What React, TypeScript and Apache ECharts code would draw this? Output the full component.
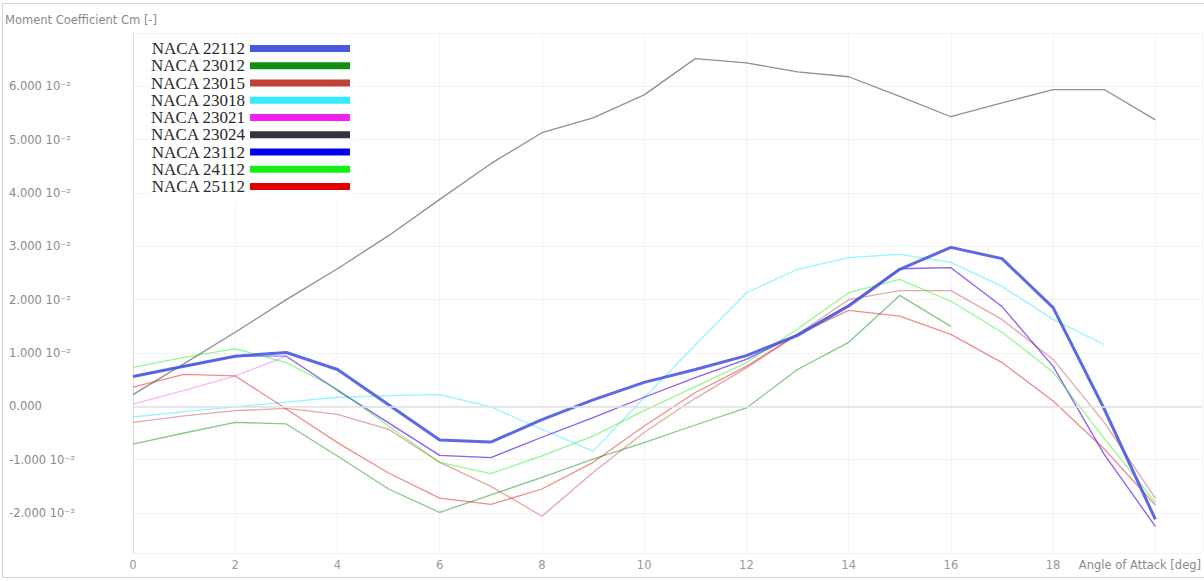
import React, { useEffect, useRef } from "react";
import * as echarts from "echarts";

const ANGLES = [0, 1, 2, 3, 4, 5, 6, 7, 8, 9, 10, 11, 12, 13, 14, 15, 16, 17, 18, 19, 20];

const SERIES_NAMES = [
  "NACA 22112",
  "NACA 23012",
  "NACA 23015",
  "NACA 23018",
  "NACA 23021",
  "NACA 23024",
  "NACA 23112",
  "NACA 24112",
  "NACA 25112",
];

const SERIES_COLORS = [
  "#4a5ae0",
  "#138f13",
  "#c0403a",
  "#33eaff",
  "#f020f0",
  "#333340",
  "#0000ee",
  "#14f014",
  "#e00000",
];

const CM_22112 = [0.0056, 0.0075, 0.0094, 0.0101, 0.0069, 0.0003, -0.0063, -0.0067, -0.0025, 0.0012, 0.0045, 0.0069, 0.0095, 0.0133, 0.0188, 0.0257, 0.0298, 0.0277, 0.0185, -0.0005, -0.0212];
const CM_23012 = [-0.0071, -0.005, -0.003, -0.0033, -0.0093, -0.0155, -0.0199, -0.0166, -0.0133, -0.0099, -0.0068, -0.0035, -0.0003, 0.0069, 0.012, 0.0208, 0.015, null, null, null, null];
const CM_23015 = [-0.003, -0.0018, -0.0008, -0.0004, -0.0015, -0.0043, -0.0105, -0.015, -0.0206, -0.0124, -0.0049, 0.0015, 0.0072, 0.0135, 0.02, 0.0217, 0.0217, 0.0163, 0.0088, -0.003, -0.0172];
const CM_23018 = [-0.002, -0.001, -0.0001, 0.0008, 0.0017, 0.002, 0.0022, -0.0001, -0.0043, -0.0084, 0.0016, 0.0115, 0.0213, 0.0257, 0.0279, 0.0285, 0.027, 0.0225, 0.0163, 0.0116, null];
const CM_23021 = [0.0004, 0.003, 0.0057, 0.0094, 0.003, -0.0031, -0.0092, -0.0096, -0.0058, -0.0021, 0.0017, 0.0054, 0.0088, 0.0135, 0.019, 0.0258, 0.026, 0.0187, 0.0075, -0.009, -0.0225];
const CM_23024 = [0.0022, 0.008, 0.0139, 0.02, 0.0258, 0.032, 0.0388, 0.0455, 0.0513, 0.0541, 0.0584, 0.0652, 0.0644, 0.0627, 0.0618, 0.0581, 0.0543, 0.0569, 0.0594, 0.0594, 0.0537];
const CM_23112 = [0.0056, 0.0075, 0.0094, 0.0094, 0.003, -0.0031, -0.0092, -0.0096, -0.0058, -0.0021, 0.0017, 0.0054, 0.0088, 0.0135, 0.019, 0.0258, 0.026, 0.0187, 0.0075, -0.009, -0.0225];
const CM_24112 = [0.0073, 0.0092, 0.0108, 0.0082, 0.0032, -0.0037, -0.0105, -0.0126, -0.0093, -0.0056, -0.0008, 0.0037, 0.0082, 0.0145, 0.0213, 0.0238, 0.0197, 0.0139, 0.0064, -0.006, -0.018];
const CM_25112 = [0.0036, 0.006, 0.0057, -0.0005, -0.0068, -0.0125, -0.0172, -0.0184, -0.0155, -0.0105, -0.0037, 0.0026, 0.0075, 0.0135, 0.018, 0.0169, 0.0135, 0.0082, 0.001, -0.008, -0.0185];

const SERIES_VALUES = [CM_22112, CM_23012, CM_23015, CM_23018, CM_23021, CM_23024, CM_23112, CM_24112, CM_25112];

const X_TICKS = [0, 2, 4, 6, 8, 10, 12, 14, 16, 18];

const AXIS_FONT = "'DejaVu Sans', Verdana, sans-serif";

function formatCm(v: number): string {
  if (Math.abs(v) < 1e-9) return "0.000";
  return (v * 100).toFixed(3) + " 10\u207B\u00B2";
}

export default function App() {
  const ref = useRef<HTMLDivElement>(null);

  useEffect(() => {
    if (!ref.current) return;
    const chart = echarts.init(ref.current, undefined, { renderer: "svg" });

    const lineOpacity = [0.9, 0.5, 0.45, 0.5, 0.32, 0.55, 0.45, 0.45, 0.45];

    const series = SERIES_NAMES.map((name, si) => {
      const vals = SERIES_VALUES[si];
      const data = ANGLES.map((a, i) => [a, vals[i]]).filter((p) => p[1] !== null);
      const thick = si === 0;
      return {
        name,
        type: "line",
        data,
        showSymbol: false,
        symbol: "none",
        z: thick ? 4 : 2,
        itemStyle: { color: SERIES_COLORS[si] },
        lineStyle: {
          color: SERIES_COLORS[si],
          width: thick ? 3 : 1.3,
          opacity: lineOpacity[si],
        },
        emphasis: { disabled: true },
      };
    });

    chart.setOption({
      animation: false,
      backgroundColor: "#ffffff",
      title: {
        text: "Moment Coefficient Cm [-]",
        left: 5,
        top: 14,
        padding: 0,
        textStyle: {
          fontFamily: AXIS_FONT,
          fontSize: 11.5,
          fontWeight: "normal",
          color: "#8a8a8a",
        },
      },
      legend: {
        orient: "vertical",
        right: 850,
        top: 38,
        padding: [2, 4, 6, 2],
        align: "right",
        icon: "rect",
        itemWidth: 100,
        itemHeight: 7,
        itemGap: 0.25,
        backgroundColor: "#ffffff",
        textStyle: {
          fontFamily: "'Liberation Serif', 'Times New Roman', serif",
          fontSize: 17,
          lineHeight: 17,
          color: "#2a2a2a",
        },
        data: SERIES_NAMES,
      },
      grid: {
        left: 133,
        right: 0,
        top: 33,
        bottom: 28,
        containLabel: false,
      },
      xAxis: {
        type: "value",
        min: 0,
        max: 20.91,
        interval: 2,
        name: "Angle of Attack [deg]",
        nameLocation: "end",
        nameGap: -123,
        nameTextStyle: {
          fontFamily: AXIS_FONT,
          fontSize: 11.5,
          color: "#8a8a8a",
          verticalAlign: "top",
          padding: [6, 0, 0, 0],
        },
        axisLine: { show: false, onZero: false },
        axisTick: { show: false },
        axisLabel: {
          margin: 6,
          fontFamily: AXIS_FONT,
          fontSize: 11.5,
          color: "#9a9a9a",
          showMaxLabel: false,
          formatter: (v: number) => (X_TICKS.indexOf(v) >= 0 ? String(v) : ""),
        },
        splitLine: { show: true, lineStyle: { color: "#f3f3f3", width: 1 } },
      },
      yAxis: {
        type: "value",
        min: -0.0275,
        max: 0.07,
        splitNumber: 10,
        axisLine: { show: true, lineStyle: { color: "#dddddd", width: 1 } },
        axisTick: { show: false },
        axisLabel: {
          showMinLabel: false,
          showMaxLabel: false,
          align: "left",
          margin: 124,
          fontFamily: AXIS_FONT,
          fontSize: 11.5,
          color: "#8a8a8a",
          formatter: formatCm,
        },
        splitLine: { show: true, lineStyle: { color: "#f3f3f3", width: 1 } },
      },
      graphic: [
        {
          type: "rect",
          silent: true,
          z: -1,
          shape: { x: 2.5, y: 3.5, width: 1210, height: 574 },
          style: { fill: "none", stroke: "#d2d2d2", lineWidth: 1 },
        },
      ],
      series: [
        ...series,
        {
          type: "line",
          data: [],
          silent: true,
          markLine: {
            silent: true,
            symbol: "none",
            label: { show: false },
            lineStyle: { color: "#e2e2e2", type: "solid", width: 1.5 },
            data: [{ yAxis: 0 }],
          },
        },
      ],
    });

    return () => chart.dispose();
  }, []);

  return (
    <div
      ref={ref}
      style={{ position: "fixed", left: 0, top: 0, width: 1204, height: 581 }}
    />
  );
}
